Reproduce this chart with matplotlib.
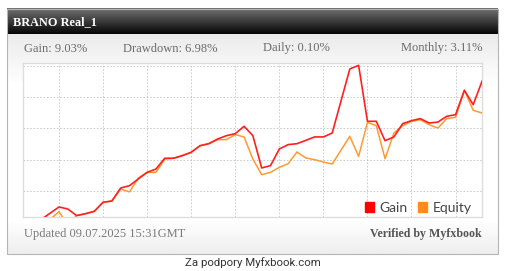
import numpy as np
import matplotlib
matplotlib.use("Agg")
from matplotlib import pyplot as plt
from matplotlib.patches import Rectangle, Patch

# point index (one step per sample), gain and equity in %
gain_x = [1, 3, 4, 5, 6, 7, 8, 9, 10, 11, 12, 13, 14, 15, 16, 17, 18, 19, 20,
          21, 22, 23, 24, 25, 26, 27, 28, 29, 30, 31, 32, 33, 34, 36, 37, 38,
          39, 40, 41, 42, 43, 44, 45, 46, 47, 48, 49, 50, 51]
gain_y = [0.19, 0.98, 0.85, 0.43, 0.55, 0.70, 1.28, 1.36, 2.19, 2.34, 2.77,
          3.19, 3.40, 4.09, 4.09, 4.26, 4.47, 4.89, 5.02, 5.32, 5.53, 5.66,
          6.13, 5.53, 3.47, 3.62, 4.68, 4.96, 5.02, 5.23, 5.45, 5.45, 5.70,
          9.79, 10.02, 6.45, 6.45, 5.21, 5.45, 6.30, 6.49, 6.62, 6.34, 6.40,
          6.77, 6.87, 8.43, 7.51, 9.00]

equity_x = [2, 3, 4, 5, 6, 7, 8, 9, 10, 11, 12, 13, 14, 15, 16, 17, 18, 19, 20,
            21, 22, 23, 24, 25, 26, 27, 28, 29, 30, 31, 32, 33, 34, 36, 37, 38,
            39, 40, 41, 42, 43, 44, 45, 46, 47, 48, 49, 50, 51]
equity_y = [0.20, 0.68, -0.15, 0.43, 0.55, 0.70, 1.28, 1.36, 2.13, 1.94, 2.83,
            3.19, 3.19, 4.04, 4.09, 4.26, 4.47, 4.89, 5.02, 5.28, 5.28, 5.60,
            5.45, 4.04, 3.04, 3.19, 3.51, 3.74, 4.49, 4.11, 4.00, 3.85, 3.72,
            5.49, 4.21, 6.38, 6.17, 4.06, 5.70, 6.17, 6.45, 6.55, 6.23, 6.02,
            6.62, 6.70, 8.43, 7.15, 6.98]

title = "BRANO Real_1"
stats = ["Gain: 9.03%", "Drawdown: 6.98%", "Daily: 0.10%", "Monthly: 3.11%"]
updated = "Updated 09.07.2025 15:31GMT"
verified = "Verified by Myfxbook"
footer = "Za podpory Myfxbook.com"

W, H = 509, 271
fig = plt.figure(figsize=(W / 100, H / 100), dpi=100)
fig.patch.set_facecolor("white")

# background widget drawn in pixel coordinates
bg = fig.add_axes([0, 0, 1, 1])
bg.set_xlim(0, W)
bg.set_ylim(H, 0)
bg.axis("off")

# body gradient
body = np.ones((100, 1))
yy = np.linspace(0, 1, 100)
body[:, 0] = np.clip(0.92 + yy * 0.35, 0, 1)
body[yy > 0.85, 0] = 1 - (yy[yy > 0.85] - 0.85) * 0.45
bg.imshow(body, cmap="gray", vmin=0, vmax=1, aspect="auto",
          extent=(7.5, 498.5, 254, 34), zorder=1)
bg.add_patch(Rectangle((7.5, 8.5), 491, 245.5, fill=False, ec="#b5b5b5",
                       lw=0.8, zorder=3))

# header gradient
head = np.linspace(0.45, 0.02, 50).reshape(-1, 1)
bg.imshow(head, cmap="gray", vmin=0, vmax=1, aspect="auto",
          extent=(7.5, 498.5, 34, 8.5), zorder=2)
bg.text(13, 22, title, color="white", fontsize=8.8, fontweight="bold",
        family="Liberation Serif", va="center", ha="left", zorder=4)

stat_x = [24, 123, 263]
for sx, s in zip(stat_x, stats[:3]):
    bg.text(sx, 48.5, s, color="#6b6b6b", fontsize=9, family="Liberation Serif",
            va="center", ha="left", zorder=4)
bg.text(483, 48.5, stats[3], color="#6b6b6b", fontsize=9,
        family="Liberation Serif", va="center", ha="right", zorder=4)

bg.text(24, 234, updated, color="#7a7a7a", fontsize=9,
        family="Liberation Serif", va="center", ha="left", zorder=4)
bg.text(482, 234, verified, color="#555555", fontsize=8.6, fontweight="bold",
        family="Liberation Serif", va="center", ha="right", zorder=4)
bg.text(253, 263, footer, color="#333333", fontsize=8.2, family="Roboto",
        va="center", ha="center", zorder=4)

# chart
ax = fig.add_axes([23 / W, (H - 217) / H, 459 / W, 154 / H])
ax.set_facecolor("white")
ax.plot(equity_x, equity_y, color="#ff9a30", lw=1.1, zorder=3)
ax.plot(gain_x, gain_y, color="#ff2020", lw=1.2, zorder=4)
ax.set_xlim(-1.085, 51)
ax.set_ylim(0.34, 10.17)
ax.set_xticks(np.arange(3, 49, 5))
ax.set_yticks([2, 4, 6, 8, 10])
ax.tick_params(length=0, labelbottom=False, labelleft=False)
ax.grid(True, color="#c4c4c4", lw=0.6, ls=(0, (2, 2)))
for sp in ax.spines.values():
    sp.set_color("#dddddd")
    sp.set_linewidth(1)

handles = [Patch(color="#ff0000", label="Gain"),
           Patch(color="#ff8c1a", label="Equity")]
ax.legend(handles=handles, loc="lower right", ncol=2, frameon=False,
          handlelength=0.65, handleheight=0.65,
          handletextpad=0.4, columnspacing=0.75, borderaxespad=0.0,
          bbox_to_anchor=(0.99, -0.015),
          labelcolor="#444444", prop={"family": "Lato", "size": 10})

fig.savefig("out.png", dpi=100)
